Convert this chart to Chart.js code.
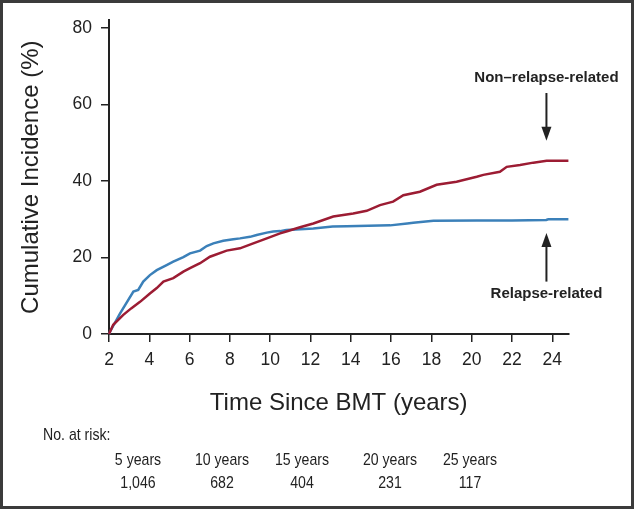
<!DOCTYPE html>
<html>
<head>
<meta charset="utf-8">
<script src="https://cdn.jsdelivr.net/npm/chart.js@4/dist/chart.umd.min.js"></script>
<style>
  body { margin: 0; background: #fff; }
  #wrap { position: relative; width: 636px; height: 510px; }
  #chart { position: absolute; left: 0; top: 0; }
  #frame { position: absolute; left: 0; top: 0; width: 634px; height: 509px; box-sizing: border-box;
           border: 3px solid #3b3b3b; pointer-events: none; }
  /* the table font in the figure is a condensed face, so squeeze it a little */
  .risk { position: absolute; font-family: 'Liberation Sans', Arial, sans-serif;
          font-size: 17px; color: #222; transform: translate(-50%, -50%) scaleX(0.83); white-space: nowrap; }
  #riskTitle { position: absolute; left: 43px; top: 435px; transform-origin: 0 50%; transform: translateY(-50%) scaleX(0.83);
               font-family: 'Liberation Sans', Arial, sans-serif; font-size: 17px; color: #222; white-space: nowrap; }
</style>
</head>
<body>
<div id="wrap">
  <canvas id="chart" width="636" height="510"></canvas>
  <div id="riskTitle">No. at risk:</div>
  <div id="frame"></div>
</div>
<script>
// relapse-related (blue)
const relTimes  = [2, 2.05, 2.55, 3.21, 3.45, 3.70, 4.03, 4.37, 4.86, 5.19, 5.69, 6.02, 6.52, 6.85, 7.18, 7.67, 8.17, 8.5, 9.0, 9.33, 9.83, 10.15, 10.49, 10.8, 11.5, 12.14, 13.1, 13.8, 15.95, 16.8, 17.1, 18.1, 20.25, 22, 23.7, 23.8, 24.8];
const relValues = [0, 0.6, 5.4, 11.1, 11.5, 13.7, 15.4, 16.7, 18.0, 18.9, 20.1, 21.1, 21.8, 23.0, 23.7, 24.4, 24.8, 25.0, 25.4, 25.9, 26.5, 26.8, 26.9, 27.2, 27.4, 27.6, 28.1, 28.2, 28.4, 28.9, 29.1, 29.6, 29.7, 29.7, 29.8, 30.0, 30.0];

// non-relapse-related (red)
const nrTimes  = [2, 2.21, 2.71, 3.1, 3.54, 4.03, 4.37, 4.70, 5.19, 5.69, 6.02, 6.52, 7.01, 7.84, 8.5, 9.16, 9.83, 10.49, 10.8, 11.48, 12.14, 13.13, 14.12, 14.79, 15.45, 16.1, 16.61, 17.43, 18.26, 19.25, 20.25, 20.58, 21.4, 21.74, 22.4, 23.06, 23.72, 24.8];
const nrValues = [0, 2.4, 5.0, 6.7, 8.4, 10.6, 12.0, 13.7, 14.6, 16.3, 17.2, 18.5, 20.2, 21.8, 22.4, 23.7, 25.0, 26.3, 26.8, 27.9, 28.9, 30.7, 31.5, 32.2, 33.7, 34.6, 36.3, 37.2, 39.0, 39.8, 41.1, 41.6, 42.4, 43.7, 44.2, 44.8, 45.3, 45.3];

const xTicks = [2, 4, 6, 8, 10, 12, 14, 16, 18, 20, 22, 24];
const yTicks = [0, 20, 40, 60, 80];

const riskYears  = ['5 years', '10 years', '15 years', '20 years', '25 years'];
const riskCounts = ['1,046', '682', '404', '231', '117'];
const riskCols   = [138, 222, 302, 390, 470];

// labels with arrows: text y, arrow tail y, arrow head y (data units)
const notes = [
  { text: 'Non\u2013relapse-related', x: 23.71, textY: 66.9, from: 63, to: 50.5 },
  { text: 'Relapse-related',          x: 23.71, textY: 10.5, from: 13.7, to: 26.4 }
];

const ink = '#222';
const sans = "'Liberation Sans', Arial, sans-serif";

function toPoints(t, v) {
  return t.map((x, i) => ({ x: x, y: v[i] }));
}

// risk table
riskYears.forEach((lbl, i) => {
  const a = document.createElement('div');
  a.className = 'risk'; a.textContent = lbl;
  a.style.left = riskCols[i] + 'px'; a.style.top = '460px';
  document.getElementById('wrap').appendChild(a);
  const b = document.createElement('div');
  b.className = 'risk'; b.textContent = riskCounts[i];
  b.style.left = riskCols[i] + 'px'; b.style.top = '483px';
  document.getElementById('wrap').appendChild(b);
});

const arrowNotes = {
  id: 'arrowNotes',
  afterDatasetsDraw(chart) {
    const c = chart.ctx, xs = chart.scales.x, ys = chart.scales.y;
    c.save();
    c.fillStyle = ink; c.strokeStyle = ink; c.lineWidth = 2;
    c.font = 'bold 15px ' + sans;
    c.textAlign = 'center'; c.textBaseline = 'middle';
    notes.forEach(n => {
      const px = xs.getPixelForValue(n.x);
      c.fillText(n.text, px, ys.getPixelForValue(n.textY));
      const y0 = ys.getPixelForValue(n.from), y1 = ys.getPixelForValue(n.to);
      const dir = y1 > y0 ? 1 : -1;
      c.beginPath();
      c.moveTo(px, y0); c.lineTo(px, y1 - dir * 10);
      c.stroke();
      c.beginPath();
      c.moveTo(px, y1);
      c.lineTo(px - 5, y1 - dir * 14);
      c.lineTo(px + 5, y1 - dir * 14);
      c.closePath(); c.fill();
    });
    c.restore();
  }
};

new Chart(document.getElementById('chart').getContext('2d'), {
  type: 'line',
  data: {
    datasets: [
      { label: 'Non\u2013relapse-related', data: toPoints(nrTimes, nrValues), borderColor: '#9c1c33',
        borderWidth: 2.5, pointRadius: 0, tension: 0, clip: 4 },
      { label: 'Relapse-related', data: toPoints(relTimes, relValues), borderColor: '#3b80b9',
        borderWidth: 2.5, pointRadius: 0, tension: 0, clip: 4 }
    ]
  },
  options: {
    responsive: false,
    animation: false,
    layout: { padding: { left: 0, right: 67.6, top: 20.35, bottom: 0 } },
    plugins: { legend: { display: false }, tooltip: { enabled: false } },
    scales: {
      x: {
        type: 'linear', min: 2, max: 24.8,
        afterBuildTicks: s => { s.ticks = xTicks.map(v => ({ value: v })); },
        afterFit: s => { s.height = 176; },
        grid: { drawOnChartArea: false, drawTicks: true, tickLength: 8, tickColor: ink, lineWidth: 1.5 },
        border: { color: ink, width: 2 },
        ticks: { font: { family: sans, size: 17.5 }, color: ink, padding: 8, maxRotation: 0, autoSkip: false },
        title: { display: true, text: 'Time Since BMT (years)', color: ink,
                 font: { family: sans, size: 24 }, padding: { top: 0, bottom: 92 } }
      },
      y: {
        min: 0, max: 82,
        afterBuildTicks: s => { s.ticks = yTicks.map(v => ({ value: v })); },
        afterFit: s => { s.width = 109; },
        grid: { drawOnChartArea: false, drawTicks: true, tickLength: 8, tickColor: ink, lineWidth: 1.5 },
        border: { color: ink, width: 2 },
        ticks: { font: { family: sans, size: 17.5 }, color: ink, padding: 9 },
        title: { display: true, text: 'Cumulative Incidence (%)', color: ink,
                 font: { family: sans, size: 24 }, padding: { top: 17, bottom: 0 } }
      }
    }
  },
  plugins: [arrowNotes]
});
</script>
</body>
</html>
